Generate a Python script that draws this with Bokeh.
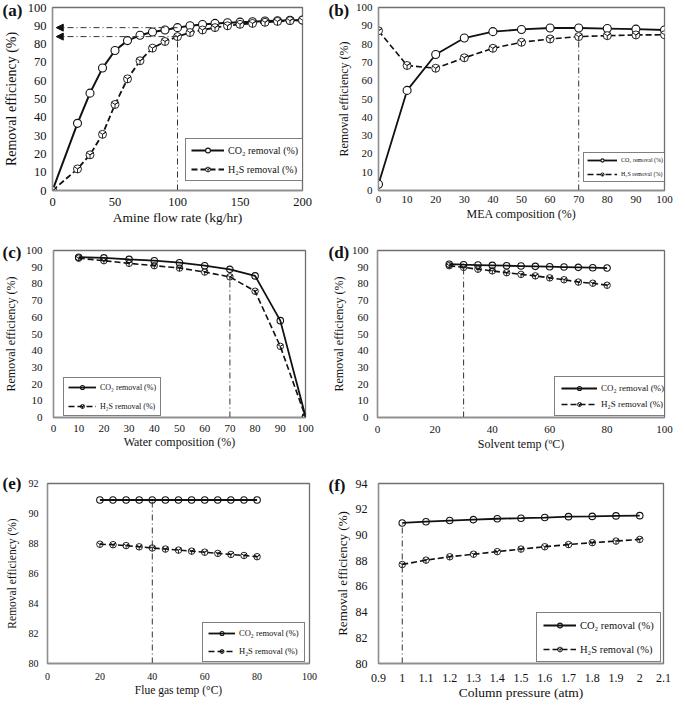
from bokeh.plotting import figure
from bokeh.models import Range1d, FixedTicker, Label, Arrow, NormalHead
from bokeh.layouts import column, row
from bokeh.embed import file_html
from bokeh.resources import INLINE

# ---------------- data ----------------
# (a) amine flow rate
a_flow = [0, 20, 30, 40, 50, 60, 70, 80, 90, 100, 110, 120, 130, 140, 150, 160, 170, 180, 190, 200]
a_co2 = [0, 36.7, 53.2, 66.9, 76.5, 81.9, 84.8, 86.6, 87.7, 89.0, 90.0, 90.7, 91.3, 91.7, 92.0, 92.2, 92.6, 92.8, 93.0, 93.1]
a_h2s = [0, 11.8, 19.5, 30.7, 47.0, 61.0, 70.9, 77.8, 81.4, 84.1, 86.3, 87.7, 89.0, 90.0, 90.8, 91.3, 91.9, 92.4, 92.8, 93.1]
a_ref = 100
a_xticks = [0, 50, 100, 150, 200]

# (b) MEA composition
b_mea = [0, 10, 20, 30, 40, 50, 60, 70, 80, 90, 100]
b_co2 = [3.4, 54.7, 74.3, 83.3, 86.8, 88.0, 88.8, 88.8, 88.5, 88.2, 87.7]
b_h2s = [87.3, 68.3, 66.8, 72.5, 77.7, 81.0, 82.8, 84.1, 84.6, 85.0, 85.1]
b_ref = 70
b_xticks = [0, 10, 20, 30, 40, 50, 60, 70, 80, 90, 100]

# (c) water composition
c_water = [10, 20, 30, 40, 50, 60, 70, 80, 90, 100]
c_co2 = [96.0, 95.6, 94.7, 93.9, 92.7, 90.9, 88.7, 84.8, 58.0, 0.6]
c_h2s = [95.4, 93.9, 92.3, 90.9, 89.5, 87.1, 84.2, 75.6, 42.6, 0.4]
c_ref = 70
c_xticks = [0, 10, 20, 30, 40, 50, 60, 70, 80, 90, 100]

# (d) solvent temperature
d_temp = [25, 30, 35, 40, 45, 50, 55, 60, 65, 70, 75, 80]
d_co2 = [91.8, 91.5, 91.3, 91.1, 90.9, 90.7, 90.5, 90.3, 90.1, 89.9, 89.7, 89.5]
d_h2s = [90.9, 89.9, 88.8, 87.8, 86.7, 85.7, 84.8, 83.6, 82.5, 81.1, 80.4, 79.2]
d_ref = 30
d_xticks = [0, 20, 40, 60, 80, 100]

# (e) flue gas temperature
e_temp = [20, 25, 30, 35, 40, 45, 50, 55, 60, 65, 70, 75, 80]
e_co2 = [90.9, 90.9, 90.9, 90.9, 90.9, 90.9, 90.9, 90.9, 90.9, 90.9, 90.9, 90.9, 90.9]
e_h2s = [87.95, 87.92, 87.86, 87.78, 87.70, 87.63, 87.56, 87.49, 87.42, 87.34, 87.27, 87.20, 87.12]
e_ref = 40
e_xticks = [0, 20, 40, 60, 80, 100]
e_yticks = [80, 82, 84, 86, 88, 90, 92]

# (f) column pressure
f_pres = [1.0, 1.1, 1.2, 1.3, 1.4, 1.5, 1.6, 1.7, 1.8, 1.9, 2.0]
f_co2 = [90.93, 91.03, 91.12, 91.19, 91.26, 91.30, 91.35, 91.42, 91.44, 91.48, 91.50]
f_h2s = [87.70, 88.04, 88.30, 88.50, 88.70, 88.90, 89.08, 89.25, 89.40, 89.52, 89.65]
f_ref = 1.0
f_xticks = [0.9, 1.0, 1.1, 1.2, 1.3, 1.4, 1.5, 1.6, 1.7, 1.8, 1.9, 2.0, 2.1]
f_xtick_labels = ["0.9", "1", "1.1", "1.2", "1.3", "1.4", "1.5", "1.6", "1.7", "1.8", "1.9", "2", "2.1"]
f_yticks = [80, 82, 84, 86, 88, 90, 92, 94]

pct_ticks = [0, 10, 20, 30, 40, 50, 60, 70, 80, 90, 100]

CO2_LABEL = "CO\u2082 removal (%)"
H2S_LABEL = "H\u2082S removal (%)"
Y_LABEL = "Removal efficiency (%)"

FONT = "Liberation Serif"
INK = "#111111"
REF_DASH = "6 3 1 3"


def base(w, h, xr, yr, xticks, yticks, bl, br, bt, bb, tick_fs, xlab, xlab_fs, ylab_fs,
         x_std, y_std, xl_std, yl_std):
    p = figure(width=w, height=h, x_range=Range1d(*xr), y_range=Range1d(*yr),
               output_backend="svg", toolbar_location=None,
               min_border_left=bl, min_border_right=br, min_border_top=bt, min_border_bottom=bb)
    p.background_fill_color = "white"
    p.border_fill_color = "white"
    p.grid.visible = False
    p.outline_line_color = "#6f6f6f"
    p.outline_line_width = 1.3
    for ax in (p.xaxis[0], p.yaxis[0]):
        ax.major_tick_out = 0
        ax.major_tick_in = 0
        ax.minor_tick_out = 0
        ax.minor_tick_in = 0
        ax.axis_line_color = "#8f8f8f"
        ax.axis_line_width = 1.3
        ax.major_label_text_font = FONT
        ax.major_label_text_font_size = f"{tick_fs}px"
        ax.major_label_text_color = INK
        ax.axis_label_text_font = FONT
        ax.axis_label_text_font_style = "normal"
        ax.axis_label_text_color = INK
    p.xaxis.ticker = FixedTicker(ticks=xticks)
    p.yaxis.ticker = FixedTicker(ticks=yticks)
    p.xaxis.axis_label = xlab
    p.yaxis.axis_label = Y_LABEL
    p.xaxis.axis_label_text_font_size = f"{xlab_fs}px"
    p.yaxis.axis_label_text_font_size = f"{ylab_fs}px"
    p.xaxis.major_label_standoff = x_std
    p.yaxis.major_label_standoff = y_std
    p.xaxis.axis_label_standoff = xl_std
    p.yaxis.axis_label_standoff = yl_std
    return p


def series(p, x, co2, h2s, msize, lw, filled):
    fill = "white" if filled else None
    p.line(x, co2, line_color=INK, line_width=lw, legend_label=CO2_LABEL)
    p.scatter(x, co2, marker="circle", size=msize, line_color=INK, line_width=1.1,
              fill_color=fill, legend_label=CO2_LABEL)
    p.line(x, h2s, line_color=INK, line_width=lw * 0.9, line_dash="6 3", legend_label=H2S_LABEL)
    p.scatter(x, h2s, marker="circle_y", size=msize, line_color=INK, line_width=0.9,
              fill_color=fill, legend_label=H2S_LABEL)


def style_legend(p, loc, fs, gw, gh, spacing, padding):
    lg = p.legend[0]
    lg.location = loc
    lg.margin = 0
    lg.label_text_font = FONT
    lg.label_text_font_size = f"{fs}px"
    lg.label_text_color = INK
    lg.glyph_width = gw
    lg.glyph_height = gh
    lg.label_height = gh
    lg.spacing = spacing
    lg.padding = padding
    lg.label_standoff = 4
    lg.border_line_color = "#000000"
    lg.border_line_width = 1.3
    lg.background_fill_alpha = 1.0


def tag(p, text, x, y):
    # panel letter, kept in a side panel so that it is not clipped to the plot frame
    p.add_layout(Label(x=x, y=y, x_units="canvas", y_units="canvas", text=text,
                       text_font=FONT, text_font_style="bold", text_font_size="17px",
                       text_color=INK, text_baseline="middle", text_align="left"), "right")


def vref(p, x, y0, y1):
    p.segment(x0=[x], y0=[y0], x1=[x], y1=[y1], line_color="#333333", line_width=1,
              line_dash=REF_DASH)


# ---------------- (a) ----------------
pa = base(328, 228, (0, 200), (0, 100), a_xticks, pct_ticks, 49, 26, 7, 37, 12.5,
          "Amine flow rate (kg/hr)", 13.5, 14, 7, 6, 1, 6)
series(pa, a_flow, a_co2, a_h2s, 8, 2, True)
ia = a_flow.index(a_ref)
vref(pa, a_ref, 0, a_h2s[ia])
for yv in (a_co2[ia], a_h2s[ia]):
    pa.add_layout(Arrow(x_start=a_ref, y_start=yv, x_end=3, y_end=yv,
                        end=NormalHead(size=7, fill_color=INK, line_color=INK),
                        line_color="#333333", line_width=1, line_dash=REF_DASH))
style_legend(pa, (133, 9), 10, 33, 12, 7, 5)
tag(pa, "(a)", 2, 10)

# ---------------- (b) ----------------
pb = base(357, 228, (0, 100), (0, 100), b_xticks, pct_ticks, 50, 10, 7, 38, 11,
          "MEA composition (%)", 12, 12, 5, 6, 1, 2)
series(pb, b_mea, b_co2, b_h2s, 8, 1.8, True)
ib = b_mea.index(b_ref)
vref(pb, b_ref, 0, b_h2s[ib])
style_legend(pb, (205, 8), 6, 30, 8, 6, 3)
tag(pb, "(b)", 0, 10)

# ---------------- (c) ----------------
pc = base(328, 227, (0, 100), (0, 100), c_xticks, pct_ticks, 50, 23, 22, 38, 11,
          "Water composition (%)", 12, 12, 7, 11, 0, 5)
series(pc, c_water, c_co2, c_h2s, 6.5, 1.8, False)
ic = c_water.index(c_ref)
vref(pc, c_ref, 0, c_h2s[ic])
style_legend(pc, (10, 1), 8, 28, 10, 9, 4)
tag(pc, "(c)", 2, 24)

# ---------------- (d) ----------------
pd_ = base(357, 227, (0, 100), (0, 100), d_xticks, pct_ticks, 49, 15, 15, 38, 11,
           "Solvent temp (\u00baC)", 12, 12, 8, 9, 1, 3)
series(pd_, d_temp, d_co2, d_h2s, 6.5, 1.8, False)
idd = d_temp.index(d_ref)
vref(pd_, d_ref, 0, d_h2s[idd])
style_legend(pd_, (177, 1), 9, 36, 10, 6, 6)
tag(pd_, "(d)", 0, 24)

# ---------------- (e) ----------------
pe = base(328, 254, (0, 100), (80, 92), e_xticks, e_yticks, 47, 19, 28, 46, 10,
          "Flue gas temp (\u00b0C)", 11.5, 11.5, 9, 9, 1, 8)
series(pe, e_temp, e_co2, e_h2s, 6.5, 1.8, False)
ie = e_temp.index(e_ref)
vref(pe, e_ref, 80, e_co2[ie])
style_legend(pe, (155, 1), 8.5, 27, 10, 8, 5)
tag(pe, "(e)", 2, 28)

# ---------------- (f) ----------------
pf = base(357, 254, (0.9, 2.1), (80, 94), f_xticks, f_yticks, 50, 22, 14, 42, 12,
          "Column pressure (atm)", 13.5, 13, 10, 11, 0, 3)
pf.xaxis.major_label_overrides = dict(zip(f_xticks, f_xtick_labels))
series(pf, f_pres, f_co2, f_h2s, 6.5, 1.8, False)
i_f = f_pres.index(f_ref)
vref(pf, f_ref, 80, f_co2[i_f])
style_legend(pf, (158, 1), 10.5, 33, 12, 12, 6)
tag(pf, "(f)", 0, 30)

layout = column(row(pa, pb), row(pc, pd_), row(pe, pf))
open("out.html", "w").write(file_html(layout, INLINE))
